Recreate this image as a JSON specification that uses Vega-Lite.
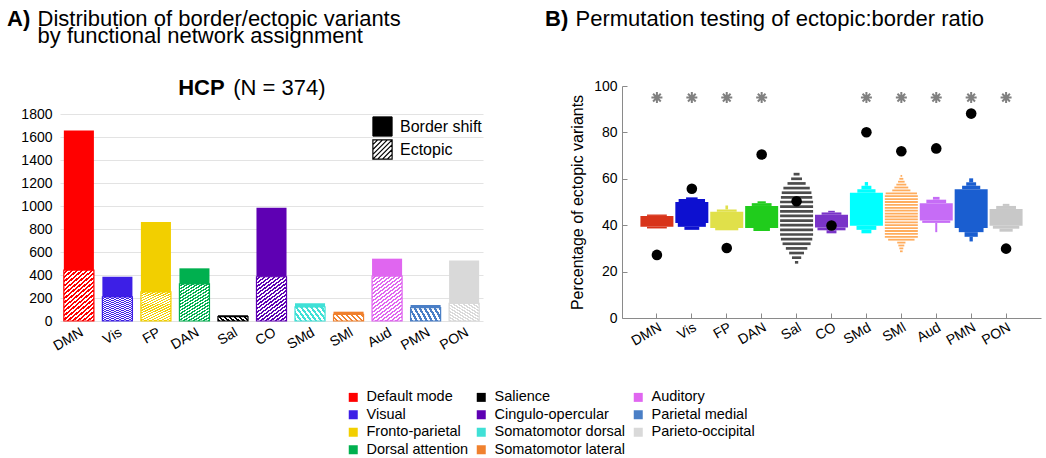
{
  "$schema": "https://vega.github.io/schema/vega-lite/v6.json",
  "padding": {"left": 7, "top": 7, "right": 2, "bottom": 2},
  "background": "white",
  "config": {
    "font": "Liberation Sans",
    "view": {"stroke": null},
    "axis": {"labelColor": "#000", "titleColor": "#000", "labelFont": "Liberation Sans", "titleFont": "Liberation Sans"},
    "title": {"font": "Liberation Sans", "subtitleFont": "Liberation Sans", "color": "#000", "subtitleColor": "#000"},
    "legend": {"labelFont": "Liberation Sans", "labelColor": "#000"}
  },
  "datasets": {
    "counts": [
      {"net": "DMN", "name": "Default mode", "type": "Ectopic", "n": 443},
      {"net": "DMN", "name": "Default mode", "type": "Border shift", "n": 1214},
      {"net": "Vis", "name": "Visual", "type": "Ectopic", "n": 209},
      {"net": "Vis", "name": "Visual", "type": "Border shift", "n": 176},
      {"net": "FP", "name": "Fronto-parietal", "type": "Ectopic", "n": 253},
      {"net": "FP", "name": "Fronto-parietal", "type": "Border shift", "n": 607},
      {"net": "DAN", "name": "Dorsal attention", "type": "Ectopic", "n": 322},
      {"net": "DAN", "name": "Dorsal attention", "type": "Border shift", "n": 136},
      {"net": "Sal", "name": "Salience", "type": "Ectopic", "n": 38},
      {"net": "Sal", "name": "Salience", "type": "Border shift", "n": 12},
      {"net": "CO", "name": "Cingulo-opercular", "type": "Ectopic", "n": 385},
      {"net": "CO", "name": "Cingulo-opercular", "type": "Border shift", "n": 600},
      {"net": "SMd", "name": "Somatomotor dorsal", "type": "Ectopic", "n": 122},
      {"net": "SMd", "name": "Somatomotor dorsal", "type": "Border shift", "n": 32},
      {"net": "SMl", "name": "Somatomotor lateral", "type": "Ectopic", "n": 58},
      {"net": "SMl", "name": "Somatomotor lateral", "type": "Border shift", "n": 23},
      {"net": "Aud", "name": "Auditory", "type": "Ectopic", "n": 391},
      {"net": "Aud", "name": "Auditory", "type": "Border shift", "n": 151},
      {"net": "PMN", "name": "Parietal medial", "type": "Ectopic", "n": 117},
      {"net": "PMN", "name": "Parietal medial", "type": "Border shift", "n": 22},
      {"net": "PON", "name": "Parieto-occipital", "type": "Ectopic", "n": 154},
      {"net": "PON", "name": "Parieto-occipital", "type": "Border shift", "n": 373}
    ],
    "nets": [
      {"net": "DMN", "obs": 27.2, "sig": true},
      {"net": "Vis", "obs": 55.7, "sig": true},
      {"net": "FP", "obs": 30.2, "sig": true},
      {"net": "DAN", "obs": 70.5, "sig": true},
      {"net": "Sal", "obs": 50.3, "sig": false},
      {"net": "CO", "obs": 39.9, "sig": false},
      {"net": "SMd", "obs": 80.1, "sig": true},
      {"net": "SMl", "obs": 71.9, "sig": true},
      {"net": "Aud", "obs": 73.1, "sig": true},
      {"net": "PMN", "obs": 88.1, "sig": true},
      {"net": "PON", "obs": 29.9, "sig": true}
    ],
    "dist": [
      {"net": "DMN", "lo": 38.6, "hi": 39.3, "w": 0.6},
      {"net": "DMN", "lo": 39.3, "hi": 44.0, "w": 1.0},
      {"net": "DMN", "lo": 44.0, "hi": 44.6, "w": 0.6},
      {"net": "Vis", "lo": 38.0, "hi": 39.3, "w": 0.45},
      {"net": "Vis", "lo": 39.3, "hi": 41.0, "w": 0.85},
      {"net": "Vis", "lo": 41.0, "hi": 50.0, "w": 1.0},
      {"net": "Vis", "lo": 50.0, "hi": 51.3, "w": 0.8},
      {"net": "Vis", "lo": 51.3, "hi": 52.0, "w": 0.35},
      {"net": "FP", "lo": 37.8, "hi": 38.8, "w": 0.7},
      {"net": "FP", "lo": 38.8, "hi": 45.8, "w": 1.0},
      {"net": "FP", "lo": 45.8, "hi": 46.8, "w": 0.6},
      {"net": "FP", "lo": 46.8, "hi": 48.5, "w": 0.08},
      {"net": "DAN", "lo": 37.5, "hi": 38.8, "w": 0.5},
      {"net": "DAN", "lo": 38.8, "hi": 48.3, "w": 1.0},
      {"net": "DAN", "lo": 48.3, "hi": 49.5, "w": 0.6},
      {"net": "DAN", "lo": 49.5, "hi": 50.3, "w": 0.25},
      {"net": "CO", "lo": 36.5, "hi": 37.8, "w": 0.3},
      {"net": "CO", "lo": 37.8, "hi": 39.0, "w": 0.85},
      {"net": "CO", "lo": 39.0, "hi": 44.5, "w": 1.0},
      {"net": "CO", "lo": 44.5, "hi": 45.5, "w": 0.6},
      {"net": "CO", "lo": 45.5, "hi": 46.2, "w": 0.2},
      {"net": "SMd", "lo": 36.5, "hi": 38.0, "w": 0.3},
      {"net": "SMd", "lo": 38.0, "hi": 39.8, "w": 0.6},
      {"net": "SMd", "lo": 39.8, "hi": 54.0, "w": 1.0},
      {"net": "SMd", "lo": 54.0, "hi": 55.5, "w": 0.55},
      {"net": "SMd", "lo": 55.5, "hi": 57.0, "w": 0.3},
      {"net": "SMd", "lo": 57.0, "hi": 58.6, "w": 0.1},
      {"net": "Aud", "lo": 37.0, "hi": 41.0, "w": 0.06},
      {"net": "Aud", "lo": 41.0, "hi": 42.0, "w": 0.85},
      {"net": "Aud", "lo": 42.0, "hi": 49.5, "w": 1.0},
      {"net": "Aud", "lo": 49.5, "hi": 51.0, "w": 0.6},
      {"net": "Aud", "lo": 51.0, "hi": 52.2, "w": 0.2},
      {"net": "PMN", "lo": 33.0, "hi": 35.0, "w": 0.1},
      {"net": "PMN", "lo": 35.0, "hi": 37.0, "w": 0.4},
      {"net": "PMN", "lo": 37.0, "hi": 38.8, "w": 0.75},
      {"net": "PMN", "lo": 38.8, "hi": 55.5, "w": 1.0},
      {"net": "PMN", "lo": 55.5, "hi": 57.0, "w": 0.55},
      {"net": "PMN", "lo": 57.0, "hi": 58.5, "w": 0.3},
      {"net": "PMN", "lo": 58.5, "hi": 60.2, "w": 0.12},
      {"net": "PON", "lo": 37.2, "hi": 38.5, "w": 0.4},
      {"net": "PON", "lo": 38.5, "hi": 39.8, "w": 0.8},
      {"net": "PON", "lo": 39.8, "hi": 47.0, "w": 1.0},
      {"net": "PON", "lo": 47.0, "hi": 48.3, "w": 0.6},
      {"net": "PON", "lo": 48.3, "hi": 49.2, "w": 0.2}
    ],
    "stripes": [
      {"net": "Sal", "pct": 62, "w": 0.18},
      {"net": "Sal", "pct": 60, "w": 0.33},
      {"net": "Sal", "pct": 58, "w": 0.55},
      {"net": "Sal", "pct": 56, "w": 0.8},
      {"net": "Sal", "pct": 54, "w": 0.9},
      {"net": "Sal", "pct": 52, "w": 0.95},
      {"net": "Sal", "pct": 50, "w": 1},
      {"net": "Sal", "pct": 48, "w": 1},
      {"net": "Sal", "pct": 46, "w": 1},
      {"net": "Sal", "pct": 44, "w": 1},
      {"net": "Sal", "pct": 42, "w": 1},
      {"net": "Sal", "pct": 40, "w": 1},
      {"net": "Sal", "pct": 38, "w": 1},
      {"net": "Sal", "pct": 36, "w": 1},
      {"net": "Sal", "pct": 34, "w": 0.95},
      {"net": "Sal", "pct": 32, "w": 0.85},
      {"net": "Sal", "pct": 30, "w": 0.65},
      {"net": "Sal", "pct": 28, "w": 0.45},
      {"net": "Sal", "pct": 26, "w": 0.28},
      {"net": "Sal", "pct": 24, "w": 0.1},
      {"net": "SMl", "pct": 28.75, "w": 0.08},
      {"net": "SMl", "pct": 30, "w": 0.12},
      {"net": "SMl", "pct": 31.25, "w": 0.18},
      {"net": "SMl", "pct": 32.5, "w": 0.25},
      {"net": "SMl", "pct": 33.75, "w": 0.8},
      {"net": "SMl", "pct": 35, "w": 1},
      {"net": "SMl", "pct": 36.25, "w": 1},
      {"net": "SMl", "pct": 37.5, "w": 1},
      {"net": "SMl", "pct": 38.75, "w": 1},
      {"net": "SMl", "pct": 40, "w": 1},
      {"net": "SMl", "pct": 41.25, "w": 1},
      {"net": "SMl", "pct": 42.5, "w": 1},
      {"net": "SMl", "pct": 43.75, "w": 1},
      {"net": "SMl", "pct": 45, "w": 1},
      {"net": "SMl", "pct": 46.25, "w": 1},
      {"net": "SMl", "pct": 47.5, "w": 1},
      {"net": "SMl", "pct": 48.75, "w": 1},
      {"net": "SMl", "pct": 50, "w": 1},
      {"net": "SMl", "pct": 51.25, "w": 1},
      {"net": "SMl", "pct": 52.5, "w": 1},
      {"net": "SMl", "pct": 53.75, "w": 0.95},
      {"net": "SMl", "pct": 55, "w": 0.55},
      {"net": "SMl", "pct": 56.25, "w": 0.42},
      {"net": "SMl", "pct": 57.5, "w": 0.3},
      {"net": "SMl", "pct": 58.75, "w": 0.2},
      {"net": "SMl", "pct": 60, "w": 0.12},
      {"net": "SMl", "pct": 61.25, "w": 0.05}
    ]
  },
  "resolve": {
    "scale": {"color": "shared", "opacity": "independent", "strokeWidth": "independent"},
    "legend": {"color": "shared", "opacity": "independent", "strokeWidth": "independent"}
  },
  "spacing": 62,
  "hconcat": [
    {
      "width": 423,
      "height": 235,
      "title": {
        "text": ["A)", "\u200b", "\u200b", "\u200b", "\u200b\u00a0\u00a0\u00a0\u00a0\u00a0\u00a0\u00a0\u00a0\u00a0\u00a0\u00a0\u00a0\u00a0\u00a0\u00a0\u00a0\u00a0\u00a0\u00a0\u00a0\u00a0\u00a0\u00a0\u00a0\u00a0\u00a0\u00a0\u00a0HCP"],
        "subtitle": ["\u200b\u00a0\u00a0\u00a0\u00a0\u00a0Distribution of border/ectopic variants", "\u200b\u00a0\u00a0\u00a0\u00a0\u00a0by functional network assignment", "\u200b", "\u200b", "\u200b\u00a0\u00a0\u00a0\u00a0\u00a0\u00a0\u00a0\u00a0\u00a0\u00a0\u00a0\u00a0\u00a0\u00a0\u00a0\u00a0\u00a0\u00a0\u00a0\u00a0\u00a0\u00a0\u00a0\u00a0\u00a0\u00a0\u00a0\u00a0\u00a0\u00a0\u00a0\u00a0\u00a0\u00a0\u00a0\u00a0\u00a0(N = 374)"],
        "anchor": "start",
        "frame": "group",
        "dx": -53,
        "fontSize": 22,
        "fontWeight": "bold",
        "lineHeight": 17.25,
        "subtitleFontSize": 22,
        "subtitleFontWeight": "normal",
        "subtitleLineHeight": 17.25,
        "subtitlePadding": -91,
        "offset": -13.6
      },
      "data": {"name": "counts"},
      "transform": [
        {"stack": "n", "groupby": ["net"], "sort": [{"field": "type", "order": "descending"}], "as": ["y0", "y1"]}
      ],
      "encoding": {
        "x": {
          "field": "net", "type": "nominal",
          "scale": {"domain": ["DMN", "Vis", "FP", "DAN", "Sal", "CO", "SMd", "SMl", "Aud", "PMN", "PON"], "paddingInner": 0.22, "paddingOuter": 0.1},
          "axis": {"title": null, "labelAngle": -30, "labelFontSize": 14, "ticks": false, "domain": false, "labelPadding": 4, "grid": false}
        },
        "y": {
          "field": "y0", "type": "quantitative",
          "scale": {"domain": [0, 2043.5], "nice": false},
          "axis": {"title": null, "values": [0, 200, 400, 600, 800, 1000, 1200, 1400, 1600, 1800], "format": "d", "labelFontSize": 14, "ticks": false, "domain": false, "grid": true, "gridColor": "#e3e3e3", "labelPadding": 8}
        },
        "y2": {"field": "y1"},
        "color": {
          "field": "name", "type": "nominal",
          "scale": {
            "domain": ["Default mode", "Visual", "Fronto-parietal", "Dorsal attention", "Salience", "Cingulo-opercular", "Somatomotor dorsal", "Somatomotor lateral", "Auditory", "Parietal medial", "Parieto-occipital"],
            "range": ["#ff0000", "#3d1fe6", "#f2cf00", "#00b04f", "#000000", "#5e00b3", "#40e0d6", "#f0812e", "#e066f0", "#4a7fc6", "#d9d9d9"]
          },
          "legend": {"orient": "none", "legendX": 286, "legendY": 304, "title": null, "columns": 3, "symbolType": "square", "symbolSize": 81, "symbolStrokeWidth": 0, "labelFontSize": 14.5, "columnPadding": 5, "rowPadding": 2.5, "labelOffset": 6}
        }
      },
      "layer": [
        {
          "transform": [{"filter": "datum.type === 'Ectopic'"}],
          "mark": {"type": "bar"}
        },
        {
          "transform": [{"filter": "datum.type === 'Border shift'"}],
          "mark": {"type": "bar"},
          "encoding": {
            "opacity": {
              "field": "type", "type": "nominal",
              "scale": {"domain": ["Border shift"], "range": [1, 1]},
              "legend": {
                "orient": "none", "legendX": 312, "legendY": 30, "title": null,
                "symbolType": "square", "symbolSize": 370, "symbolFillColor": "#000000", "symbolStrokeColor": "#000000", "symbolStrokeWidth": 1,
                "labelFontSize": 16, "labelOffset": 7
              }
            }
          }
        },
        {
          "transform": [{"filter": "datum.type === 'Ectopic'"}],
          "mark": {
            "type": "bar",
            "fill": {"gradient": "linear", "x1": 0, "y1": 0, "x2": 0.6, "y2": 1.2, "stops": [
              {"offset": 0, "color": "#ffffff"}, {"offset": 0.027778, "color": "#ffffff"}, {"offset": 0.027778, "color": "rgba(255,255,255,0)"}, {"offset": 0.055556, "color": "rgba(255,255,255,0)"},
              {"offset": 0.055556, "color": "#ffffff"}, {"offset": 0.083333, "color": "#ffffff"}, {"offset": 0.083333, "color": "rgba(255,255,255,0)"}, {"offset": 0.111111, "color": "rgba(255,255,255,0)"},
              {"offset": 0.111111, "color": "#ffffff"}, {"offset": 0.138889, "color": "#ffffff"}, {"offset": 0.138889, "color": "rgba(255,255,255,0)"}, {"offset": 0.166667, "color": "rgba(255,255,255,0)"},
              {"offset": 0.166667, "color": "#ffffff"}, {"offset": 0.194444, "color": "#ffffff"}, {"offset": 0.194444, "color": "rgba(255,255,255,0)"}, {"offset": 0.222222, "color": "rgba(255,255,255,0)"},
              {"offset": 0.222222, "color": "#ffffff"}, {"offset": 0.25, "color": "#ffffff"}, {"offset": 0.25, "color": "rgba(255,255,255,0)"}, {"offset": 0.277778, "color": "rgba(255,255,255,0)"},
              {"offset": 0.277778, "color": "#ffffff"}, {"offset": 0.305556, "color": "#ffffff"}, {"offset": 0.305556, "color": "rgba(255,255,255,0)"}, {"offset": 0.333333, "color": "rgba(255,255,255,0)"},
              {"offset": 0.333333, "color": "#ffffff"}, {"offset": 0.361111, "color": "#ffffff"}, {"offset": 0.361111, "color": "rgba(255,255,255,0)"}, {"offset": 0.388889, "color": "rgba(255,255,255,0)"},
              {"offset": 0.388889, "color": "#ffffff"}, {"offset": 0.416667, "color": "#ffffff"}, {"offset": 0.416667, "color": "rgba(255,255,255,0)"}, {"offset": 0.444444, "color": "rgba(255,255,255,0)"},
              {"offset": 0.444444, "color": "#ffffff"}, {"offset": 0.472222, "color": "#ffffff"}, {"offset": 0.472222, "color": "rgba(255,255,255,0)"}, {"offset": 0.5, "color": "rgba(255,255,255,0)"},
              {"offset": 0.5, "color": "#ffffff"}, {"offset": 0.527778, "color": "#ffffff"}, {"offset": 0.527778, "color": "rgba(255,255,255,0)"}, {"offset": 0.555556, "color": "rgba(255,255,255,0)"},
              {"offset": 0.555556, "color": "#ffffff"}, {"offset": 0.583333, "color": "#ffffff"}, {"offset": 0.583333, "color": "rgba(255,255,255,0)"}, {"offset": 0.611111, "color": "rgba(255,255,255,0)"},
              {"offset": 0.611111, "color": "#ffffff"}, {"offset": 0.638889, "color": "#ffffff"}, {"offset": 0.638889, "color": "rgba(255,255,255,0)"}, {"offset": 0.666667, "color": "rgba(255,255,255,0)"},
              {"offset": 0.666667, "color": "#ffffff"}, {"offset": 0.694444, "color": "#ffffff"}, {"offset": 0.694444, "color": "rgba(255,255,255,0)"}, {"offset": 0.722222, "color": "rgba(255,255,255,0)"},
              {"offset": 0.722222, "color": "#ffffff"}, {"offset": 0.75, "color": "#ffffff"}, {"offset": 0.75, "color": "rgba(255,255,255,0)"}, {"offset": 0.777778, "color": "rgba(255,255,255,0)"},
              {"offset": 0.777778, "color": "#ffffff"}, {"offset": 0.805556, "color": "#ffffff"}, {"offset": 0.805556, "color": "rgba(255,255,255,0)"}, {"offset": 0.833333, "color": "rgba(255,255,255,0)"},
              {"offset": 0.833333, "color": "#ffffff"}, {"offset": 0.861111, "color": "#ffffff"}, {"offset": 0.861111, "color": "rgba(255,255,255,0)"}, {"offset": 0.888889, "color": "rgba(255,255,255,0)"},
              {"offset": 0.888889, "color": "#ffffff"}, {"offset": 0.916667, "color": "#ffffff"}, {"offset": 0.916667, "color": "rgba(255,255,255,0)"}, {"offset": 0.944444, "color": "rgba(255,255,255,0)"},
              {"offset": 0.944444, "color": "#ffffff"}, {"offset": 0.972222, "color": "#ffffff"}, {"offset": 0.972222, "color": "rgba(255,255,255,0)"}, {"offset": 1, "color": "rgba(255,255,255,0)"}
            ]}
          },
          "encoding": {"color": null}
        },
        {
          "transform": [{"filter": "datum.type === 'Ectopic'"}],
          "mark": {"type": "bar", "filled": false},
          "encoding": {
            "strokeWidth": {
              "field": "type", "type": "nominal",
              "scale": {"domain": ["Ectopic"], "range": [1.2, 1.2]},
              "legend": {
                "orient": "none", "legendX": 312, "legendY": 53, "title": null,
                "symbolType": "M-1,-1H1V1H-1Z M-1,-0.5L-0.5,-1 M-1,0L0,-1 M-1,0.5L0.5,-1 M-1,1L1,-1 M-0.5,1L1,-0.5 M0,1L1,0 M0.5,1L1,0.5",
                "symbolSize": 370, "symbolFillColor": "#ffffff", "symbolStrokeColor": "#000000",
                "labelFontSize": 16, "labelOffset": 7
              }
            }
          }
        }
      ]
    },
    {
      "width": 419,
      "height": 232,
      "title": {
        "text": "B)",
        "subtitle": "\u200b\u00a0\u00a0\u00a0\u00a0\u00a0Permutation testing of ectopic:border ratio",
        "anchor": "start",
        "frame": "group",
        "dx": -77,
        "fontSize": 22,
        "fontWeight": "bold",
        "subtitleFontSize": 22,
        "subtitleFontWeight": "normal",
        "subtitlePadding": -22,
        "offset": 48
      },
      "encoding": {
        "x": {
          "field": "net", "type": "nominal",
          "scale": {"domain": ["DMN", "Vis", "FP", "DAN", "Sal", "CO", "SMd", "SMl", "Aud", "PMN", "PON"], "paddingInner": 0, "paddingOuter": 0.5},
          "axis": {"title": null, "labelAngle": -30, "labelFontSize": 14, "domainColor": "#8a8a8a", "tickColor": "#8a8a8a", "tickSize": -5, "labelPadding": 7, "grid": false}
        }
      },
      "layer": [
        {
          "data": {"name": "dist"},
          "mark": {"type": "bar"},
          "encoding": {
            "y": {
              "field": "lo", "type": "quantitative",
              "scale": {"domain": [0, 100]},
              "axis": {"title": "Percentage of ectopic variants", "titleFontSize": 16, "titleFontWeight": "normal", "titlePadding": 8, "values": [0, 20, 40, 60, 80, 100], "labelFontSize": 14, "grid": false, "domainColor": "#8a8a8a", "tickColor": "#8a8a8a", "tickSize": -5, "labelPadding": 10}
            },
            "y2": {"field": "hi"},
            "size": {"field": "w", "type": "quantitative", "scale": {"domain": [0, 1], "range": [0, 33]}, "legend": null},
            "fill": {
              "field": "net", "type": "nominal",
              "scale": {"domain": ["DMN", "Vis", "FP", "DAN", "Sal", "CO", "SMd", "SMl", "Aud", "PMN", "PON"], "range": ["#d8341a", "#0d10d0", "#e0e04a", "#20cc1c", "#000000", "#7a34c8", "#00ffff", "#ff8a1a", "#c66cf6", "#1a5ed0", "#c8c8c8"]},
              "legend": null
            }
          }
        },
        {
          "data": {"name": "stripes"},
          "transform": [{"filter": "datum.net === 'Sal'"}],
          "mark": {"type": "tick", "thickness": 2.7},
          "encoding": {
            "y": {"field": "pct", "type": "quantitative"},
            "size": {"field": "w", "type": "quantitative", "scale": {"domain": [0, 1], "range": [0, 33]}, "legend": null},
            "fill": {"field": "net", "type": "nominal", "legend": null}
          }
        },
        {
          "data": {"name": "stripes"},
          "transform": [{"filter": "datum.net === 'SMl'"}],
          "mark": {"type": "tick", "thickness": 1.8},
          "encoding": {
            "y": {"field": "pct", "type": "quantitative"},
            "size": {"field": "w", "type": "quantitative", "scale": {"domain": [0, 1], "range": [0, 33]}, "legend": null},
            "fill": {"field": "net", "type": "nominal", "legend": null}
          }
        },
        {
          "data": {"name": "nets"},
          "mark": {"type": "circle", "color": "#000000", "size": 112, "opacity": 1},
          "encoding": {"y": {"field": "obs", "type": "quantitative"}}
        },
        {
          "data": {"name": "nets"},
          "transform": [{"filter": "datum.sig"}],
          "mark": {"type": "point", "shape": "M-1,0L1,0M0,-1L0,1M-0.7,-0.7L0.7,0.7M-0.7,0.7L0.7,-0.7", "filled": false, "color": "#808080", "strokeWidth": 2, "size": 121, "opacity": 1},
          "encoding": {"y": {"datum": 95}}
        }
      ]
    }
  ]
}
